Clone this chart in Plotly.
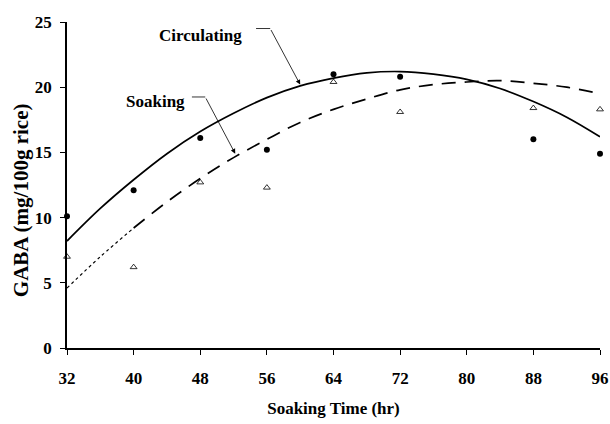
import plotly.graph_objects as go

# measured points
hours = [32, 40, 48, 56, 64, 72, 88, 96]
circulating = [10.1, 12.1, 16.1, 15.2, 21.0, 20.8, 16.0, 14.9]
soaking = [7.0, 6.2, 12.7, 12.3, 20.4, 18.1, 18.4, 18.3]

# fitted trend curves
fit_hours = [32, 36, 40, 44, 48, 52, 56, 60, 64, 68, 72, 76, 80, 84, 88, 92, 96]
circ_fit = [8.2, 10.7, 12.9, 14.9, 16.6, 18.0, 19.2, 20.1, 20.7, 21.1, 21.2, 21.0, 20.6, 19.9, 18.9, 17.7, 16.2]
soak_fit = [4.6, 7.0, 9.2, 11.2, 13.0, 14.6, 16.0, 17.3, 18.3, 19.1, 19.8, 20.2, 20.4, 20.5, 20.3, 20.0, 19.5]

x_ticks = [32, 40, 48, 56, 64, 72, 80, 88, 96]
y_ticks = [0, 5, 10, 15, 20, 25]

FONT = "Liberation Serif"

fig = go.Figure()

# soaking fit: dotted start, dashed rest
fig.add_trace(go.Scatter(x=fit_hours[:3], y=soak_fit[:3], mode="lines", line_shape="spline",
                         line=dict(color="black", width=1.2, dash="dot"), showlegend=False))
fig.add_trace(go.Scatter(x=fit_hours[2:], y=soak_fit[2:], mode="lines", line_shape="spline",
                         line=dict(color="black", width=1.7, dash="14px,9px"), showlegend=False))
fig.add_trace(go.Scatter(x=fit_hours, y=circ_fit, mode="lines", line_shape="spline",
                         line=dict(color="black", width=1.7), showlegend=False))

fig.add_trace(go.Scatter(x=hours, y=circulating, mode="markers", cliponaxis=False,
                         marker=dict(symbol="circle", size=6, color="black"), showlegend=False))
fig.add_trace(go.Scatter(x=hours, y=soaking, mode="markers", cliponaxis=False,
                         marker=dict(symbol="triangle-up-open", size=6, color="black",
                                     line=dict(width=0.8, color="black")), showlegend=False))

# labels with elbow leaders
fig.add_annotation(x=48.0, y=24.0, text="<b>Circulating</b>", showarrow=False,
                   font=dict(family=FONT, size=17, color="black"))
fig.add_shape(type="line", x0=54.7, y0=24.5, x1=56.4, y1=24.5, line=dict(color="black", width=0.8))
fig.add_annotation(x=60.0, y=20.2, ax=56.4, ay=24.5, axref="x", ayref="y", text="",
                   showarrow=True, arrowhead=2, arrowsize=1.2, arrowwidth=0.8, arrowcolor="black")

fig.add_annotation(x=42.6, y=18.9, text="<b>Soaking</b>", showarrow=False,
                   font=dict(family=FONT, size=17, color="black"))
fig.add_shape(type="line", x0=47.0, y0=19.25, x1=48.6, y1=19.25, line=dict(color="black", width=0.8))
fig.add_annotation(x=52.2, y=14.9, ax=48.6, ay=19.25, axref="x", ayref="y", text="",
                   showarrow=True, arrowhead=2, arrowsize=1.2, arrowwidth=0.8, arrowcolor="black")

# y-axis title (placed as an annotation so it can sit slightly below centre, as in the original)
fig.add_annotation(xref="paper", yref="paper", x=-0.086, y=0.454, xanchor="center", yanchor="middle",
                   text="<b>GABA (mg/100g rice)</b>", textangle=-90, showarrow=False,
                   font=dict(family=FONT, size=21, color="black"))

fig.update_layout(
    width=610, height=424,
    margin=dict(l=67, r=10, t=22, b=76),
    paper_bgcolor="white", plot_bgcolor="white",
    font=dict(family=FONT, color="black"),
    xaxis=dict(range=[32, 96], tickvals=x_ticks, ticktext=[f"<b>{v}</b>" for v in x_ticks],
               automargin=False,
               showgrid=False, zeroline=False, showline=True, linecolor="black", linewidth=1.5,
               ticks="outside", ticklen=5, tickwidth=1.2, tickcolor="black",
               tickfont=dict(family=FONT, size=17), ticklabelstandoff=9,
               title=dict(text="<b>Soaking Time (hr)</b>", font=dict(family=FONT, size=17), standoff=15)),
    yaxis=dict(range=[0, 25], tickvals=y_ticks, ticktext=[f"<b>{v}</b>" for v in y_ticks],
               automargin=False,
               showgrid=False, zeroline=False, showline=True, linecolor="black", linewidth=1.5,
               ticks="outside", ticklen=5, tickwidth=1.2, tickcolor="black",
               tickfont=dict(family=FONT, size=17), ticklabelstandoff=5),
)

fig.write_html("out.html", config={"displayModeBar": False},
               post_script="document.body.style.margin='0';document.body.style.overflow='hidden';")
